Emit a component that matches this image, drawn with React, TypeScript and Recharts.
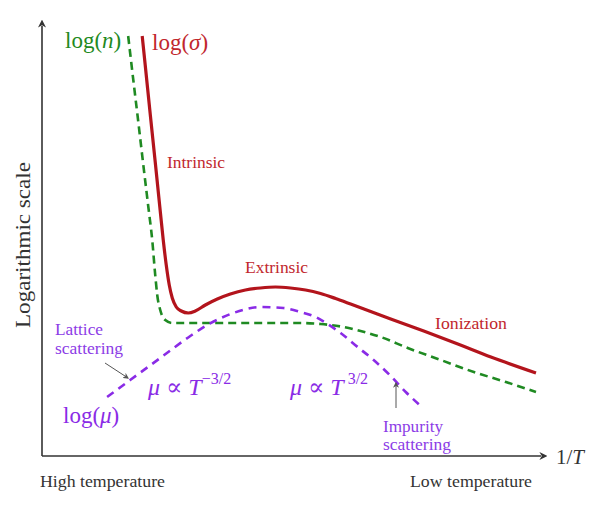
import { LineChart, Line, XAxis, YAxis } from 'recharts'

// x = distance along 1/T, y = height on the log scale (arbitrary units)
const sigmaX = [100, 103, 108, 113, 118, 121, 124, 127, 130, 134, 139, 146, 153, 163, 175, 188, 203, 218, 233, 248, 263, 278, 293, 308, 328, 348, 381, 415, 448, 493]
const sigmaY = [420, 391, 342, 294, 245, 216, 191, 171, 158, 149, 145, 143, 145, 151, 157, 162, 166, 168, 169, 168, 166, 162.5, 157.5, 152, 144.5, 137, 125, 112, 99, 83]

const nX = [86, 91, 96, 101, 106, 110, 113, 115, 118, 123, 130, 158, 208, 258, 278, 298, 318, 338, 365, 398, 431, 463, 493]
const nY = [420, 377, 335, 292, 250, 216, 181, 161, 146, 136, 133, 133, 133, 133, 132, 129.5, 125, 119, 108, 96, 84, 74, 64]

const muX = [65, 88, 118, 148, 165, 191, 218, 241, 258, 273, 285, 298, 315, 331, 348, 363, 378]
const muY = [59, 76, 98, 120, 131, 143, 149, 148, 144, 139, 132, 123, 109, 96, 80, 64, 50]

const toPoints = (xs: number[], ys: number[]) => xs.map((x, i) => ({ x, y: ys[i] }))

const sigma = toPoints(sigmaX, sigmaY)
const carriers = toPoints(nX, nY)
const mobility = toPoints(muX, muY)

const RED = '#b3141c'
const RED_TEXT = '#c1272d'
const GREEN = '#1f8a22'
const PURPLE = '#8a2be6'
const PURPLE_TEXT = '#8c3ce6'
const AXIS = '#333'
const FONT = '"Liberation Serif", "DejaVu Serif", serif'

export default function App() {
  return (
    <div style={{ position: 'absolute', left: 0, top: 0, width: 591, height: 515, background: '#fff' }}>
      <LineChart width={591} height={515} margin={{ top: 26, right: 48, bottom: 59, left: 42 }}>
        <XAxis type="number" dataKey="x" domain={[0, 500]} hide />
        <YAxis type="number" dataKey="y" domain={[0, 430]} hide />
        <Line data={carriers} dataKey="y" type="monotone" stroke={GREEN} strokeWidth={2.6} strokeDasharray="8 5" dot={false} isAnimationActive={false} />
        <Line data={mobility} dataKey="y" type="monotone" stroke={PURPLE} strokeWidth={2.6} strokeDasharray="8 6" dot={false} isAnimationActive={false} />
        <Line data={sigma} dataKey="y" type="monotone" stroke={RED} strokeWidth={3.2} dot={false} isAnimationActive={false} />
      </LineChart>

      <svg width={591} height={515} style={{ position: 'absolute', left: 0, top: 0, pointerEvents: 'none' }} fontFamily={FONT}>
        <defs>
          <marker id="axisArrow" viewBox="0 0 10 10" refX="2" refY="5" markerWidth="8" markerHeight="8" orient="auto" markerUnits="userSpaceOnUse">
            <path d="M0,0 L10,5 L0,10 L3,5 z" fill={AXIS} />
          </marker>
          <marker id="smallArrow" viewBox="0 0 10 10" refX="8" refY="5" markerWidth="6" markerHeight="6" orient="auto" markerUnits="userSpaceOnUse">
            <path d="M0,0 L10,5 L0,10 L3,5 z" fill="#555" />
          </marker>
        </defs>

        {/* axes */}
        <line x1={42} y1={456} x2={42} y2={26} stroke={AXIS} strokeWidth={1.6} markerEnd="url(#axisArrow)" />
        <line x1={42} y1={456} x2={541} y2={456} stroke={AXIS} strokeWidth={1.6} markerEnd="url(#axisArrow)" />

        <text x={65} y={48} fontSize={23} fill={GREEN}>log(<tspan fontStyle="italic">n</tspan>)</text>
        <text x={152} y={50} fontSize={23} fill={RED_TEXT}>log(<tspan fontStyle="italic">σ</tspan>)</text>

        <text x={167} y={168} fontSize={16} textLength={58} lengthAdjust="spacingAndGlyphs" fill={RED_TEXT}>Intrinsic</text>
        <text x={245} y={273} fontSize={16} textLength={63} lengthAdjust="spacingAndGlyphs" fill={RED_TEXT}>Extrinsic</text>
        <text x={435} y={329} fontSize={16} textLength={72} lengthAdjust="spacingAndGlyphs" fill={RED_TEXT}>Ionization</text>

        <text x={55} y={335} fontSize={16} textLength={48} lengthAdjust="spacingAndGlyphs" fill={PURPLE_TEXT}>Lattice</text>
        <text x={55} y={354} fontSize={16} textLength={68} lengthAdjust="spacingAndGlyphs" fill={PURPLE_TEXT}>scattering</text>
        <line x1={105} y1={363} x2={128} y2={378} stroke="#555" strokeWidth={1} markerEnd="url(#smallArrow)" />

        <text x={148} y={395} fontSize={24} fill={PURPLE} fontStyle="italic">
          μ<tspan fontStyle="normal"> ∝ </tspan>T<tspan fontSize={16} dy={-11} fontStyle="normal">−3/2</tspan>
        </text>
        <text x={290} y={395} fontSize={24} fill={PURPLE} fontStyle="italic">
          μ<tspan fontStyle="normal"> ∝ </tspan>T<tspan fontSize={16} dy={-11} fontStyle="normal"> 3/2</tspan>
        </text>
        <text x={63} y={423} fontSize={23} fill={PURPLE}>log(<tspan fontStyle="italic">μ</tspan>)</text>

        <line x1={396} y1={408} x2={396} y2={383} stroke="#555" strokeWidth={1} markerEnd="url(#smallArrow)" />
        <text x={383} y={432} fontSize={16} textLength={60} lengthAdjust="spacingAndGlyphs" fill={PURPLE_TEXT}>Impurity</text>
        <text x={383} y={450} fontSize={16} textLength={68} lengthAdjust="spacingAndGlyphs" fill={PURPLE_TEXT}>scattering</text>

        <text x={0} y={0} fontSize={21} fill={AXIS} textLength={166} lengthAdjust="spacingAndGlyphs" transform="translate(30 328) rotate(-90)">Logarithmic scale</text>
        <text x={556} y={464} fontSize={21} fill={AXIS}>1/<tspan fontStyle="italic">T</tspan></text>

        <text x={40} y={487} fontSize={16} textLength={125} lengthAdjust="spacingAndGlyphs" fill={AXIS}>High temperature</text>
        <text x={410} y={487} fontSize={16} textLength={122} lengthAdjust="spacingAndGlyphs" fill={AXIS}>Low temperature</text>
      </svg>
    </div>
  )
}
